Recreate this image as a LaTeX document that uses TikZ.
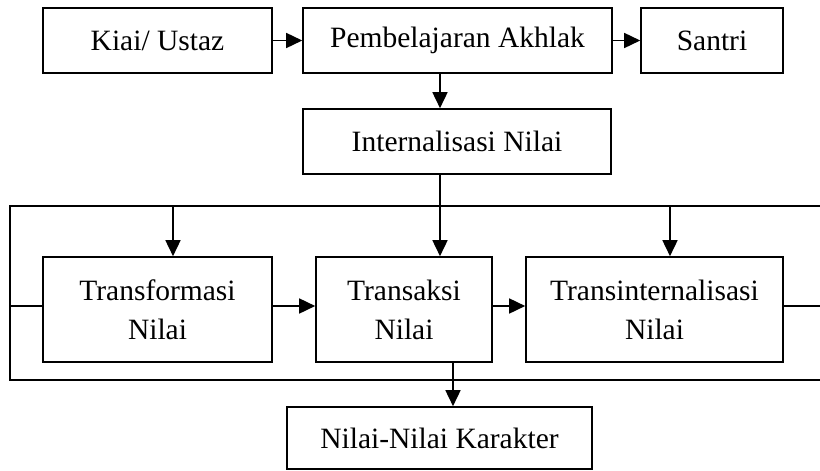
\documentclass[tikz,border=0pt]{standalone}
\usepackage{fontspec}
\setmainfont{Liberation Serif}
\usetikzlibrary{arrows.meta}
\begin{document}
\begin{tikzpicture}[x=1pt,y=-1pt,
  box/.style={draw,line width=1.6pt,rectangle,inner sep=0pt,align=center,
    font=\fontsize{29.5}{39}\selectfont},
  line/.style={line width=1.6pt},
  arr/.style={line width=1.6pt,-{Triangle[length=16pt,width=15pt]}}]
\useasboundingbox (0,0) rectangle (820,471);
\node[box,minimum width=229pt,minimum height=65pt] (kiai) at (157.5,40.5) {Kiai/ Ustaz};
\node[box,minimum width=309pt,minimum height=65pt] (pemb) at (457.5,40.5) {Pembelajaran Akhlak};
\node[box,minimum width=142pt,minimum height=65pt] (santri) at (712,40.5) {Santri};
\node[box,minimum width=308pt,minimum height=65pt] (intern) at (457,141.5) {Internalisasi Nilai};
\node[box,minimum width=229pt,minimum height=105pt] (trf) at (157.5,309.5) {Transformasi\\Nilai};
\node[box,minimum width=176pt,minimum height=105pt] (trk) at (404,309.5) {Transaksi\\Nilai};
\node[box,minimum width=257pt,minimum height=105pt] (tri) at (654.5,309.5) {Transinternalisasi\\Nilai};
\node[box,minimum width=305pt,minimum height=62pt] (nilai) at (439.5,438) {Nilai-Nilai Karakter};
\coordinate (xa) at (440,0);
\coordinate (xb) at (453,0);
\coordinate (xl) at (173,0);
\coordinate (xr) at (670,0);
\coordinate (ym) at (0,306);
\coordinate (ftl) at (10,206);
\coordinate (fbl) at (10,380);
\coordinate (ftr) at (820,206);
\coordinate (fbr) at (820,380);
\draw[arr] (kiai.east) -- (pemb.west);
\draw[arr] (pemb.east) -- (santri.west);
\draw[arr] (pemb.south -| xa) -- (intern.north -| xa);
\draw[line] (ftr) -- (ftl) -- (fbl) -- (fbr);
\draw[arr] (intern.south -| xa) -- (trk.north -| xa);
\draw[arr] (ftl -| xl) -- (trf.north -| xl);
\draw[arr] (ftl -| xr) -- (tri.north -| xr);
\draw[line] (fbl |- ym) -- (trf.west |- ym);
\draw[line] (tri.east |- ym) -- (ftr |- ym);
\draw[arr] (trf.east |- ym) -- (trk.west |- ym);
\draw[arr] (trk.east |- ym) -- (tri.west |- ym);
\draw[arr] (trk.south -| xb) -- (nilai.north -| xb);
\end{tikzpicture}
\end{document}
